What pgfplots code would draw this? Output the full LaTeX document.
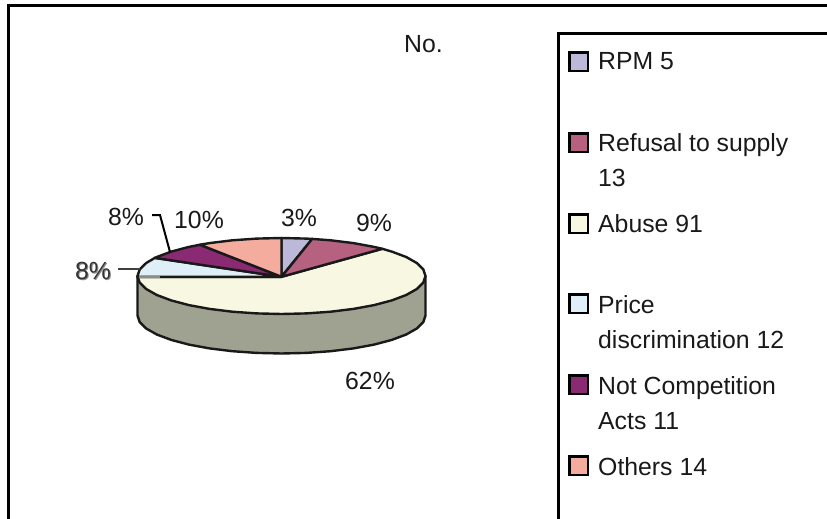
\documentclass[border=0pt]{standalone}
\usepackage{fontspec}
\setmainfont{Liberation Sans}
\usepackage{pgfplots}
\pgfplotsset{compat=1.18}
\definecolor{cRPM}{HTML}{BBB8D9}
\definecolor{cRefusal}{HTML}{B5617F}
\definecolor{cAbuse}{HTML}{F8F8E2}
\definecolor{cPrice}{HTML}{DEEFF8}
\definecolor{cNotComp}{HTML}{8A2A72}
\definecolor{cOthers}{HTML}{F4AC9F}
\definecolor{cWall}{HTML}{A0A291}
\begin{document}
\begin{tikzpicture}[
  lab/.style={font=\fontsize{24.8}{30}\selectfont, anchor=base west, inner sep=0pt, text=black!90},
]
\useasboundingbox (0,0) rectangle (827pt,519pt);
\begin{axis}[
  at={(0,0)}, anchor=south west,
  scale only axis, width=827pt, height=519pt,
  xmin=0, xmax=827, ymin=0, ymax=519, y dir=reverse,
  hide axis,
  slice/.style={draw=black!90, line width=2.4pt, line join=round},
  swatch/.style={draw=black, line width=2.8pt, line join=miter},
  rule/.style={draw=black, line width=3pt, line cap=butt},
]
% outer frame and legend box
\addplot[rule, forget plot] coordinates {(8.5,519) (8.5,5.8) (827,5.8)};
\addplot[rule, forget plot] coordinates {(558,519) (558,34) (827,34)};

% side wall of the pie
\addplot[slice, fill=cWall] coordinates {
  (425.5,276) (425.5,315.5) (423.3,322.1) (416.8,328.5) (406.2,334.5) (391.8,339.9)
  (374.1,344.6) (353.5,348.4) (330.7,351.2) (306.5,352.9) (281.5,353.5) (256.5,352.9)
  (232.3,351.2) (209.5,348.4) (188.9,344.6) (171.2,339.9) (156.8,334.5) (146.2,328.5)
  (139.7,322.1) (137.5,315.5) (137.5,276)
} -- cycle;

% top face: Abuse 91
\addplot[slice, fill=cAbuse] coordinates {
  (281.5,276.8) (382.3,248.8) (391.8,251.6) (406.2,257) (416.8,263) (423.3,269.4) (425.5,276)
  (423.3,282.6) (416.8,289) (406.2,295) (391.8,300.4) (374.1,305.1) (353.5,308.9)
  (330.7,311.7) (306.5,313.4) (281.5,314) (256.5,313.4) (232.3,311.7) (209.5,308.9)
  (188.9,305.1) (171.2,300.4) (156.8,295) (146.2,289) (139.7,282.6) (137.5,276.8)
} -- cycle;
% top face: RPM 5
\addplot[slice, fill=cRPM] coordinates {
  (281.5,276.8) (281.5,238) (306.5,238.6) (312.2,238.9)
} -- cycle;
% top face: Refusal to supply 13
\addplot[slice, fill=cRefusal] coordinates {
  (281.5,276.8) (312.2,238.9) (330.7,240.3) (353.5,243.1) (374.1,246.9) (382.3,248.8)
} -- cycle;
% top face: Price discrimination 12
\addplot[slice, fill=cPrice] coordinates {
  (281.5,276.8) (137.5,276.8) (137.5,276) (139.7,269.4) (146.2,263) (154.8,257.9)
} -- cycle;
% top face: Not Competition Acts 11
\addplot[slice, fill=cNotComp] coordinates {
  (281.5,276.8) (154.8,257.9) (156.8,257) (171.2,251.6) (188.9,246.9) (199.9,244.7)
} -- cycle;
% top face: Others 14
\addplot[slice, fill=cOthers] coordinates {
  (281.5,276.8) (199.9,244.7) (209.5,243.1) (232.3,240.3) (256.5,238.6) (281.5,238)
} -- cycle;
% leader lines
\addplot[black, line width=2pt, forget plot] coordinates {(152,215) (160,215) (170,252)};
\addplot[black!75, line width=2pt, forget plot] coordinates {(118,269) (140,269)};
\addplot[black!45, line width=2pt, forget plot] coordinates {(139,277) (160,277)};

% legend swatches
\addplot[swatch, fill=cRPM] coordinates {(569.5,52.5) (588,52.5) (588,71) (569.5,71)} -- cycle;
\addplot[swatch, fill=cRefusal] coordinates {(569.5,133.5) (588,133.5) (588,152) (569.5,152)} -- cycle;
\addplot[swatch, fill=cAbuse] coordinates {(569.5,214.5) (588,214.5) (588,233) (569.5,233)} -- cycle;
\addplot[swatch, fill=cPrice] coordinates {(569.5,294.5) (588,294.5) (588,313) (569.5,313)} -- cycle;
\addplot[swatch, fill=cNotComp] coordinates {(569.5,375.5) (588,375.5) (588,394) (569.5,394)} -- cycle;
\addplot[swatch, fill=cOthers] coordinates {(569.5,456.5) (588,456.5) (588,475) (569.5,475)} -- cycle;

% legend text
\node[lab] at (axis cs:598,70) {RPM 5};
\node[lab] at (axis cs:598,151) {Refusal to supply};
\node[lab] at (axis cs:598,186) {13};
\node[lab] at (axis cs:598,232) {Abuse 91};
\node[lab] at (axis cs:598,313) {Price};
\node[lab] at (axis cs:598,348) {discrimination 12};
\node[lab] at (axis cs:598,394) {Not Competition};
\node[lab] at (axis cs:598,429) {Acts 11};
\node[lab] at (axis cs:598,475) {Others 14};

% title and percentage labels
\node[lab] at (axis cs:404,52.5) {No.};
\node[lab] at (axis cs:281,226) {3\%};
\node[lab] at (axis cs:356,231) {9\%};
\node[lab] at (axis cs:345,389) {62\%};
\node[lab] at (axis cs:174,228) {10\%};
\node[lab] at (axis cs:108,225) {8\%};
\node[lab, text=black!45] at (axis cs:76,280.5) {8\%};
\node[lab, text=black!80] at (axis cs:75,279.5) {8\%};
\end{axis}
\end{tikzpicture}
\end{document}
